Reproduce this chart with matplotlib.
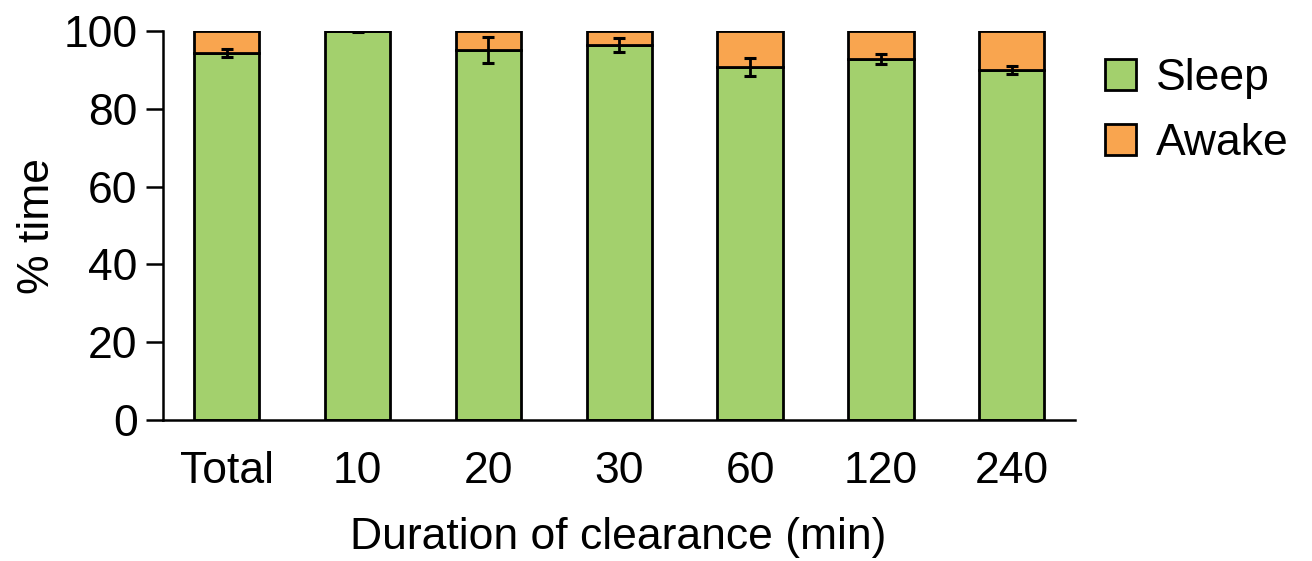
import numpy as np
import matplotlib
matplotlib.use('Agg')
import matplotlib.pyplot as plt

plt.rcParams['font.family'] = ['Liberation Sans', 'DejaVu Sans']

# data
groups = ['Total', '10', '20', '30', '60', '120', '240']
sleep = [94.3, 99.9, 95.1, 96.4, 90.8, 92.8, 90.0]
sleep_err = [1.0, 0.2, 3.4, 1.8, 2.3, 1.3, 1.0]
awake = [100 - s for s in sleep]

green = '#a3d06d'
orange = '#f9a54f'
fs = 32

fig = plt.figure(figsize=(13.12, 5.61), dpi=100)
ax = fig.add_axes([0.124, 0.251, 0.695, 0.694])

x = np.arange(len(groups))
ax.bar(x, sleep, width=0.5, color=green, edgecolor='black', linewidth=2.0, label='Sleep', zorder=2)
ax.bar(x, awake, width=0.5, bottom=sleep, color=orange, edgecolor='black', linewidth=2.0, label='Awake', zorder=2)
ax.errorbar(x, sleep, yerr=sleep_err, fmt='none', ecolor='black', elinewidth=2.0,
            capsize=4.5, capthick=2.2, zorder=3)

ax.set_xlim(-0.49, 6.48)
ax.set_ylim(0, 100)
ax.set_yticks([0, 20, 40, 60, 80, 100])
ax.set_xticks(x)
ax.set_xticklabels(groups)
ax.tick_params(axis='y', length=12, width=1.8, labelsize=fs, pad=6)
ax.tick_params(axis='x', length=0, labelsize=fs, pad=22)
for side in ['top', 'right']:
    ax.spines[side].set_visible(False)
for side in ['left', 'bottom']:
    ax.spines[side].set_linewidth(1.8)

ax.set_ylabel('% time', fontsize=fs, labelpad=4)
ax.set_xlabel('Duration of clearance (min)', fontsize=fs, labelpad=18)

fig.legend(loc='upper left', bbox_to_anchor=(0.842, 0.897), frameon=False, fontsize=fs,
           handlelength=0.7, handleheight=0.7, handletextpad=0.45, labelspacing=0.55,
           borderaxespad=0, borderpad=0)

fig.savefig('out.png', dpi=100)
